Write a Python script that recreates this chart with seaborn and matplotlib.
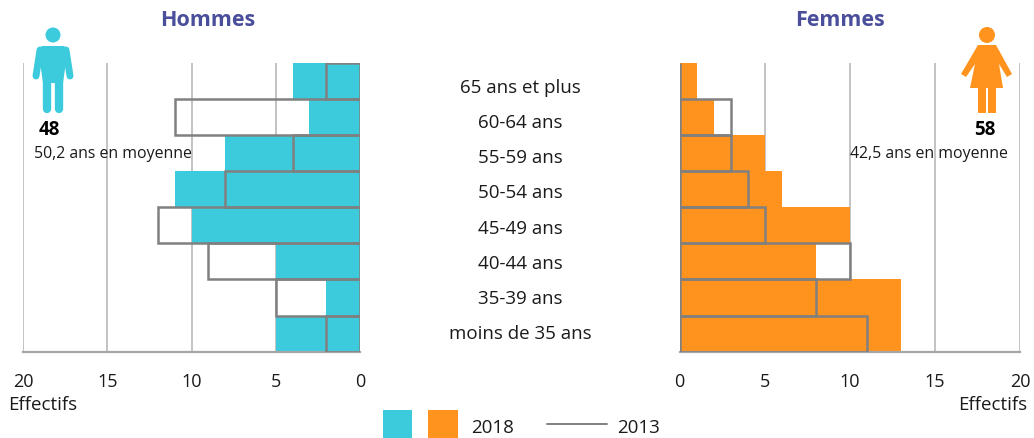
import matplotlib
matplotlib.use("Agg")
import matplotlib.pyplot as plt
from matplotlib.patches import Circle, Polygon, Rectangle
from matplotlib.lines import Line2D
import seaborn as sns
import pandas as pd

ages = ["65 ans et plus", "60-64 ans", "55-59 ans", "50-54 ans", "45-49 ans",
        "40-44 ans", "35-39 ans", "moins de 35 ans"]
hommes_2018 = [4, 3, 8, 11, 10, 5, 2, 5]
hommes_2013 = [2, 11, 4, 8, 12, 9, 5, 2]
femmes_2018 = [1, 2, 5, 6, 10, 8, 13, 13]
femmes_2013 = [0, 3, 3, 4, 5, 10, 8, 11]
ticks = [0, 5, 10, 15, 20]

CYAN, ORANGE, GREY, GRID, TITLE = "#3bcbdc", "#ff931e", "#808080", "#b3b3b3", "#4b4f9b"
W, H = 1034, 439

sns.set_theme(style="white")
plt.rcParams["font.family"] = ["Open Sans", "DejaVu Sans"]
fig = plt.figure(figsize=(W / 100, H / 100), dpi=100)


def px_axes(x0, y0, x1, y1, **kw):
    return fig.add_axes([x0 / W, 1 - y1 / H, (x1 - x0) / W, (y1 - y0) / H], **kw)


def pyramid(ax, v2018, v2013, color, xlim):
    df = pd.DataFrame({"age": ages, "y18": v2018, "y13": v2013})
    sns.barplot(df, y="age", x="y18", ax=ax, color=color, width=1,
                saturation=1, linewidth=0, zorder=2)
    sns.barplot(df, y="age", x="y13", ax=ax, color=GREY, width=1, fill=False,
                linewidth=1.8, zorder=3)
    ax.set_xlim(*xlim)
    ax.set_ylim(7.5, -0.5)
    ax.set_xticks(ticks)
    ax.set_yticks([])
    ax.set_xlabel("")
    ax.set_ylabel("")
    ax.grid(False)
    for t in ticks:
        ax.axvline(t, color=GRID, lw=1.1, zorder=1)
    for s in ax.spines.values():
        s.set_visible(False)
    ax.spines["bottom"].set_visible(True)
    ax.spines["bottom"].set_color("#a6a6a6")
    ax.spines["bottom"].set_linewidth(1.6)
    ax.tick_params(axis="x", length=0, pad=14.5, labelsize=13, labelcolor="#1a1a1a")
    ax.patch.set_alpha(0)


ax_m = px_axes(23, 63.7, 360, 352.7)
pyramid(ax_m, hommes_2018, hommes_2013, CYAN, (20, 0))
ax_f = px_axes(679.5, 63.7, 1020, 352.7)
pyramid(ax_f, femmes_2018, femmes_2013, ORANGE, (0, 20))

ax_c = px_axes(420, 69.4, 620, 350.6)
ax_c.set_xlim(0, 1)
ax_c.set_ylim(7.5, -0.5)
ax_c.axis("off")
for i, a in enumerate(ages):
    ax_c.text(0.5, i + 0.03, a, ha="center", va="center", fontsize=13.5, color="#1a1a1a")

ov = fig.add_axes([0, 0, 1, 1], zorder=5)
ov.set_xlim(0, W)
ov.set_ylim(H, 0)
ov.axis("off")


def txt(x, y, s, **kw):
    kw.setdefault("fontsize", 13.5)
    kw.setdefault("color", "#1a1a1a")
    ov.text(x, y, s, ha=kw.pop("ha", "center"), va="center", **kw)


txt(208, 20.5, "Hommes", fontsize=15.5, fontweight="bold", color=TITLE)
txt(840, 20.5, "Femmes", fontsize=15.5, fontweight="bold", color=TITLE)
txt(49, 130, "48", fontsize=13.5, fontweight="bold", color="black")
txt(985, 130, "58", fontsize=13.5, fontweight="bold", color="black")
txt(113, 154.5, "50,2 ans en moyenne", fontsize=11.4)
txt(929, 154.5, "42,5 ans en moyenne", fontsize=11.4)
txt(43, 405.5, "Effectifs")
txt(993, 405.5, "Effectifs")

# man icon
ov.add_patch(Circle((53, 36), 7.5, color=CYAN, lw=0))
ov.add_patch(Polygon([(42, 47), (64, 47), (68, 51), (65, 70), (63, 84), (43, 84), (41, 70), (38, 51)],
                     closed=True, color=CYAN, lw=0))
ov.add_line(Line2D([40, 36], [51, 77], color=CYAN, lw=5, solid_capstyle="round"))
ov.add_line(Line2D([66, 70], [51, 77], color=CYAN, lw=5, solid_capstyle="round"))
ov.add_line(Line2D([47, 47], [80, 110], color=CYAN, lw=6, solid_capstyle="round"))
ov.add_line(Line2D([58.5, 58.5], [80, 110], color=CYAN, lw=6, solid_capstyle="round"))

# woman icon
ov.add_patch(Circle((987, 36), 8, color=ORANGE, lw=0))
ov.add_patch(Polygon([(978, 46), (996, 46), (1012, 75), (1007, 78), (999, 65),
                      (1003, 89), (970, 89), (975, 65), (966, 78), (961, 75)],
                     closed=True, color=ORANGE, lw=0))
ov.add_patch(Rectangle((978, 88), 7.5, 26, color=ORANGE, lw=0))
ov.add_patch(Rectangle((988, 88), 7.5, 26, color=ORANGE, lw=0))

# legend
ov.add_patch(Rectangle((383, 411), 29, 28, color=CYAN, lw=0))
ov.add_patch(Rectangle((428, 411), 30, 28, color=ORANGE, lw=0))
txt(492.5, 428, "2018")
ov.add_line(Line2D([547, 607], [425.5, 425.5], color=GREY, lw=1.4))
txt(638.5, 428, "2013")

fig.savefig("out.png", dpi=100)
